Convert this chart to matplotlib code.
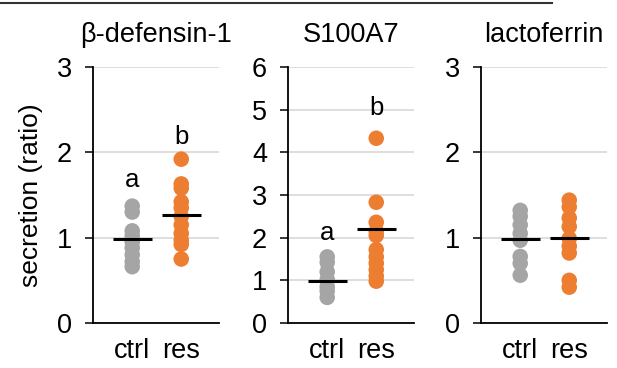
import matplotlib
matplotlib.use("Agg")
import matplotlib.pyplot as plt
from matplotlib.lines import Line2D

plt.rcParams['font.family'] = ['Liberation Sans', 'DejaVu Sans']

groups = ["ctrl", "res"]
titles = ["β-defensin-1", "S100A7", "lactoferrin"]
ylims = [3, 6, 3]
yticks = [[0, 1, 2, 3], [0, 1, 2, 3, 4, 5, 6], [0, 1, 2, 3]]

defensin_ctrl = [1.37, 1.30, 1.08, 1.02, 0.95, 0.88, 0.80, 0.72, 0.66]
defensin_res = [1.92, 1.63, 1.58, 1.42, 1.35, 1.25, 1.15, 1.05, 0.97, 0.92, 0.75]
s100_ctrl = [1.55, 1.42, 1.20, 1.02, 0.85, 0.75, 0.60]
s100_res = [4.33, 2.83, 2.36, 2.15, 2.05, 1.72, 1.55, 1.40, 1.25, 1.10, 0.98]
lacto_ctrl = [1.32, 1.25, 1.15, 1.05, 0.97, 0.78, 0.70, 0.56]
lacto_res = [1.44, 1.36, 1.23, 1.13, 0.99, 0.90, 0.82, 0.50, 0.42]

means = [[0.99, 1.26], [0.99, 2.21], [0.98, 1.00]]
letters = [["a", "b"], ["a", "b"], [None, None]]
letter_y = [[1.68, 2.18], [2.11, 5.03], [None, None]]

data = [[defensin_ctrl, defensin_res], [s100_ctrl, s100_res], [lacto_ctrl, lacto_res]]
colors = ["#a5a5a5", "#ed7d31"]

W, H = 617, 368
fig = plt.figure(figsize=(W / 100, H / 100), dpi=100)

lefts = [93, 288, 481]
ax_w = 126
top_px, bot_px = 67, 323

for i in range(3):
    ax = fig.add_axes([lefts[i] / W, 1 - bot_px / H, ax_w / W, (bot_px - top_px) / H])
    ax.set_xlim(-0.8, 1.77)
    ax.set_ylim(0, ylims[i])
    ax.set_yticks(yticks[i])
    for t in yticks[i][1:]:
        ax.axhline(t, color="#d4d4d4", lw=1.1, zorder=0)
    for g in range(2):
        vals = data[i][g]
        ax.scatter([g] * len(vals), vals, s=125, color=colors[g], edgecolors="none", zorder=2)
        ax.plot([g - 0.40, g + 0.40], [means[i][g]] * 2, color="black", lw=2.2, zorder=3,
                solid_capstyle="butt")
        if letters[i][g]:
            ax.text(g, letter_y[i][g], letters[i][g], ha="center", va="center", fontsize=18.5)
    ax.set_xticks([0, 1])
    ax.set_xticklabels(groups)
    ax.tick_params(axis="x", length=0, labelsize=19.5, pad=11)
    ax.tick_params(axis="y", length=6, width=1.1, labelsize=19.5, pad=9)
    for s in ["top", "right"]:
        ax.spines[s].set_visible(False)
    ax.spines["left"].set_linewidth(1.3)
    ax.spines["bottom"].set_linewidth(1.3)
    ax.set_title(titles[i], fontsize=19.5, pad=18)
    if i == 0:
        ax.set_ylabel("secretion (ratio)", fontsize=19, labelpad=10)

fig.add_artist(Line2D([0, 552 / W], [1 - 3 / H] * 2, color="#333333", lw=1.5))

fig.savefig("out.png", dpi=100)
